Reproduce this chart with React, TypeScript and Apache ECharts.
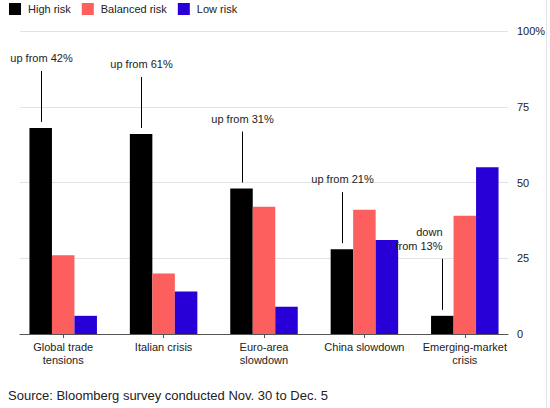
import React from "react";
import * as echarts from "echarts";

const categories = [
  "Global trade\ntensions",
  "Italian crisis",
  "Euro-area\nslowdown",
  "China slowdown",
  "Emerging-market\ncrisis",
];
const highRisk = [68, 66, 48, 28, 6];
const balancedRisk = [26, 20, 42, 41, 39];
const lowRisk = [6, 14, 9, 31, 55];
// annotation text above each "High risk" bar
const notes = ["up from 42%", "up from 61%", "up from 31%", "up from 21%", "down\nfrom 13%"];
const noteAlign = ["center", "center", "center", "center", "right"];
const yTicks = [0, 25, 50, 75, 100];

const FONT = "Arial, 'Liberation Sans', sans-serif";
const BAR_W = 22.5;

export default function App() {
  const ref = React.useRef<HTMLDivElement>(null);

  React.useEffect(() => {
    if (!ref.current) return;
    document.body.style.margin = "0";
    const chart = echarts.init(ref.current, undefined, { renderer: "svg" });

    const option: echarts.EChartsOption = {
      animation: false,
      backgroundColor: "#fff",
      textStyle: { fontFamily: FONT },
      legend: {
        left: 9,
        top: 3,
        padding: 0,
        icon: "rect",
        itemWidth: 12,
        itemHeight: 12,
        itemGap: 11,
        textStyle: { fontSize: 11, color: "#222", fontFamily: FONT, padding: [0, 0, 0, 2] },
        data: ["High risk", "Balanced risk", "Low risk"],
      },
      grid: [
        { left: 13, right: 35, top: 31, bottom: 74 },
        { left: 20, right: 42, top: 31, bottom: 74 },
      ],
      xAxis: [
        {
          type: "category",
          gridIndex: 0,
          data: categories,
          axisLine: { show: false },
          axisTick: { show: true, alignWithLabel: true, length: 4, lineStyle: { color: "#555" } },
          axisLabel: { interval: 0, color: "#222", fontSize: 11, lineHeight: 13, margin: 6, fontFamily: FONT },
        },
        {
          type: "value",
          gridIndex: 1,
          min: 0,
          max: 1,
          axisLine: { show: true, onZero: false, lineStyle: { color: "#555", width: 1 } },
          axisTick: { show: false },
          axisLabel: { show: false },
          splitLine: { show: false },
        },
      ],
      yAxis: [
        { type: "value", gridIndex: 0, min: 0, max: 100, show: false },
        {
          type: "value",
          gridIndex: 1,
          position: "right",
          min: 0,
          max: 100,
          interval: 25,
          axisLine: { show: false },
          axisTick: { show: false },
          axisLabel: {
            color: "#222",
            fontSize: 11,
            margin: 9,
            fontFamily: FONT,
            formatter: (v: number) => (v === yTicks[yTicks.length - 1] ? `${v}%` : `${v}`),
          },
          splitLine: { show: true, lineStyle: { color: "#e2e2e2", width: 1 } },
        },
      ],
      series: [
        {
          name: "High risk",
          type: "bar",
          data: highRisk,
          barWidth: BAR_W,
          barGap: "0%",
          itemStyle: { color: "#000000" },
        },
        {
          name: "Balanced risk",
          type: "bar",
          data: balancedRisk,
          barWidth: BAR_W,
          barGap: "0%",
          itemStyle: { color: "#fd5f5f" },
        },
        {
          name: "Low risk",
          type: "bar",
          data: lowRisk,
          barWidth: BAR_W,
          barGap: "0%",
          itemStyle: { color: "#2800d7" },
        },
        {
          type: "custom",
          silent: true,
          z: 5,
          data: highRisk.map((v, i) => [i, v]),
          renderItem: (params: any, api: any) => {
            const i = params.dataIndex;
            const p = api.coord([api.value(0), api.value(1)]);
            const x = Math.round(p[0] - BAR_W) + 0.5;
            const top = p[1];
            return {
              type: "group",
              children: [
                {
                  type: "line",
                  shape: { x1: x, y1: top - 6, x2: x, y2: top - 57 },
                  style: { stroke: "#000", lineWidth: 1 },
                },
                {
                  type: "text",
                  x: x,
                  y: top - 63,
                  style: {
                    text: notes[i],
                    fill: "#222",
                    font: `11px ${FONT}`,
                    align: noteAlign[i],
                    verticalAlign: "bottom",
                    lineHeight: 14,
                  },
                },
              ],
            };
          },
        },
      ],
      graphic: [
        {
          type: "text",
          left: 8,
          top: 389,
          style: {
            text: "Source: Bloomberg survey conducted Nov. 30 to Dec. 5",
            fill: "#222",
            font: `13px ${FONT}`,
          },
        },
        {
          type: "line",
          shape: { x1: 546.5, y1: 0, x2: 546.5, y2: 408 },
          style: { stroke: "#e4e4e4", lineWidth: 1 },
        },
      ],
    };

    chart.setOption(option);
    return () => chart.dispose();
  }, []);

  return <div ref={ref} style={{ width: 550, height: 408 }} />;
}
